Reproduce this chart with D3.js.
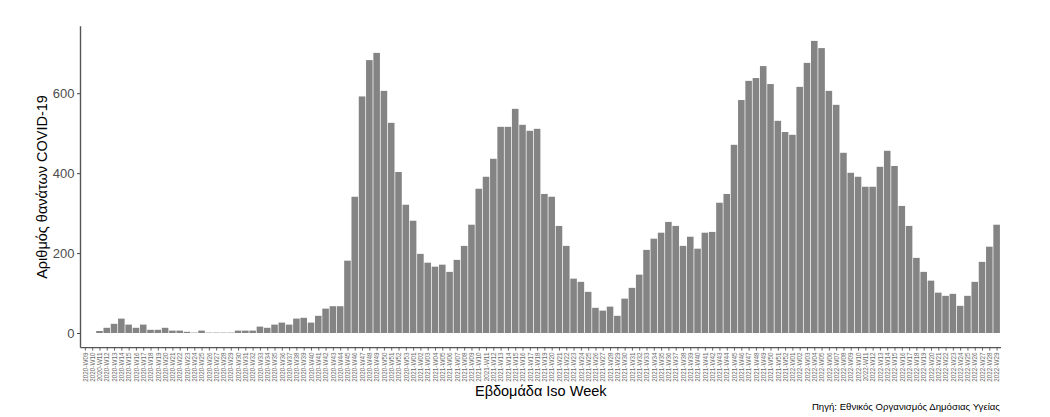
<!DOCTYPE html>
<html>
<head>
<meta charset="utf-8">
<script src="https://cdn.jsdelivr.net/npm/d3@7"></script>
<style>
  html, body { margin: 0; padding: 0; background: #ffffff; }
  svg { display: block; font-family: "Liberation Sans", Arial, sans-serif; }
</style>
</head>
<body>
<svg id="chart" width="1050" height="417"></svg>
<script>
const weeks = [
  "2020-W09","2020-W10","2020-W11","2020-W12","2020-W13","2020-W14","2020-W15","2020-W16","2020-W17","2020-W18",
  "2020-W19","2020-W20","2020-W21","2020-W22","2020-W23","2020-W24","2020-W25","2020-W26","2020-W27","2020-W28",
  "2020-W29","2020-W30","2020-W31","2020-W32","2020-W33","2020-W34","2020-W35","2020-W36","2020-W37","2020-W38",
  "2020-W39","2020-W40","2020-W41","2020-W42","2020-W43","2020-W44","2020-W45","2020-W46","2020-W47","2020-W48",
  "2020-W49","2020-W50","2020-W51","2020-W52","2020-W53",
  "2021-W01","2021-W02","2021-W03","2021-W04","2021-W05","2021-W06","2021-W07","2021-W08","2021-W09","2021-W10",
  "2021-W11","2021-W12","2021-W13","2021-W14","2021-W15","2021-W16","2021-W17","2021-W18","2021-W19","2021-W20",
  "2021-W21","2021-W22","2021-W23","2021-W24","2021-W25","2021-W26","2021-W27","2021-W28","2021-W29","2021-W30",
  "2021-W31","2021-W32","2021-W33","2021-W34","2021-W35","2021-W36","2021-W37","2021-W38","2021-W39","2021-W40",
  "2021-W41","2021-W42","2021-W43","2021-W44","2021-W45","2021-W46","2021-W47","2021-W48","2021-W49","2021-W50",
  "2021-W51","2021-W52",
  "2022-W01","2022-W02","2022-W03","2022-W04","2022-W05","2022-W06","2022-W07","2022-W08","2022-W09","2022-W10",
  "2022-W11","2022-W12","2022-W13","2022-W14","2022-W15","2022-W16","2022-W17","2022-W18","2022-W19","2022-W20",
  "2022-W21","2022-W22","2022-W23","2022-W24","2022-W25","2022-W26","2022-W27","2022-W28","2022-W29"
];

const deaths = [
  0, 0, 5, 13, 23, 36, 21, 13, 21, 8,
  8, 13, 6, 6, 3, 1, 6, 1, 1, 1,
  1, 6, 6, 6, 16, 13, 21, 26, 21, 36,
  38, 26, 43, 61, 67, 67, 181, 341, 592, 683,
  701, 606, 526, 403, 321,
  281, 198, 176, 166, 171, 153, 183, 218, 271, 361,
  391, 436, 516, 516, 561, 521, 506, 511, 348, 341,
  268, 218, 136, 128, 103, 63, 56, 66, 43, 86,
  113, 146, 208, 236, 251, 278, 268, 218, 241, 211,
  251, 253, 326, 348, 471, 583, 631, 638, 668, 623,
  531, 503,
  496, 616, 676, 731, 713, 606, 571, 451, 401, 391,
  366, 366, 416, 456, 418, 318, 268, 188, 153, 131,
  101, 93, 98, 68, 93, 128, 178, 216, 271
];

const yTicks = [0, 200, 400, 600];

const yTitle = "Αριθμός θανάτων COVID-19";
const xTitle = "Εβδομάδα Iso Week";
const caption = "Πηγή: Εθνικός Οργανισμός Δημόσιας Υγείας";

const svg = d3.select("#chart");
const panel = { left: 80.5, right: 1001, top: 26.3, bottom: 347.6 };

const x = d3.scalePoint()
  .domain(weeks)
  .range([panel.left, panel.right])
  .padding(0.6);

const maxV = d3.max(deaths);
const pad = maxV * 0.05;
const y = d3.scaleLinear()
  .domain([-pad, maxV + pad])
  .range([panel.bottom, panel.top]);

const barW = x.step() * 0.9;

svg.append("g")
  .selectAll("rect")
  .data(weeks.map((w, i) => ({ w, v: deaths[i] })))
  .join("rect")
  .attr("x", d => x(d.w) - barW / 2)
  .attr("width", barW)
  .attr("y", d => y(Math.max(0, d.v)))
  .attr("height", d => Math.abs(y(0) - y(d.v)))
  .attr("fill", "#848484");

// Y axis
const yAxis = svg.append("g")
  .attr("transform", `translate(${panel.left},0)`)
  .call(d3.axisLeft(y).tickValues(yTicks).tickSize(3.5).tickPadding(2.5).tickSizeOuter(0));
yAxis.select(".domain").attr("stroke", "#555").attr("stroke-width", 1.4)
  .attr("d", `M0,${panel.top}V${panel.bottom}`);
yAxis.selectAll(".tick line").attr("stroke", "#444").attr("stroke-width", 1);
yAxis.selectAll(".tick text")
  .attr("fill", "#4d4d4d")
  .style("font-size", "13px");

// X axis
const xAxis = svg.append("g")
  .attr("transform", `translate(0,${panel.bottom})`)
  .call(d3.axisBottom(x).tickSize(3).tickPadding(2).tickSizeOuter(0));
xAxis.select(".domain").attr("stroke", "#555").attr("stroke-width", 1.4)
  .attr("d", `M${panel.left},0H${panel.right}`);
xAxis.selectAll(".tick line").attr("stroke", "#444").attr("stroke-width", 0.8);
xAxis.selectAll(".tick text")
  .attr("fill", "#6a6a6a")
  .style("font-size", "6.3px")
  .attr("text-anchor", "end")
  .attr("dy", "0.35em")
  .attr("transform", "translate(0,5) rotate(-90)")
  .attr("x", 0)
  .attr("y", 0);

// Titles
svg.append("text")
  .attr("transform", `translate(47,${(panel.top + panel.bottom) / 2}) rotate(-90)`)
  .attr("text-anchor", "middle")
  .attr("fill", "#000")
  .style("font-size", "14.5px")
  .text(yTitle);

svg.append("text")
  .attr("x", (panel.left + panel.right) / 2)
  .attr("y", 396)
  .attr("text-anchor", "middle")
  .attr("fill", "#000")
  .style("font-size", "14.5px")
  .text(xTitle);

svg.append("text")
  .attr("x", 1000)
  .attr("y", 410)
  .attr("text-anchor", "end")
  .attr("fill", "#000")
  .style("font-size", "9.6px")
  .text(caption);
</script>
</body>
</html>
